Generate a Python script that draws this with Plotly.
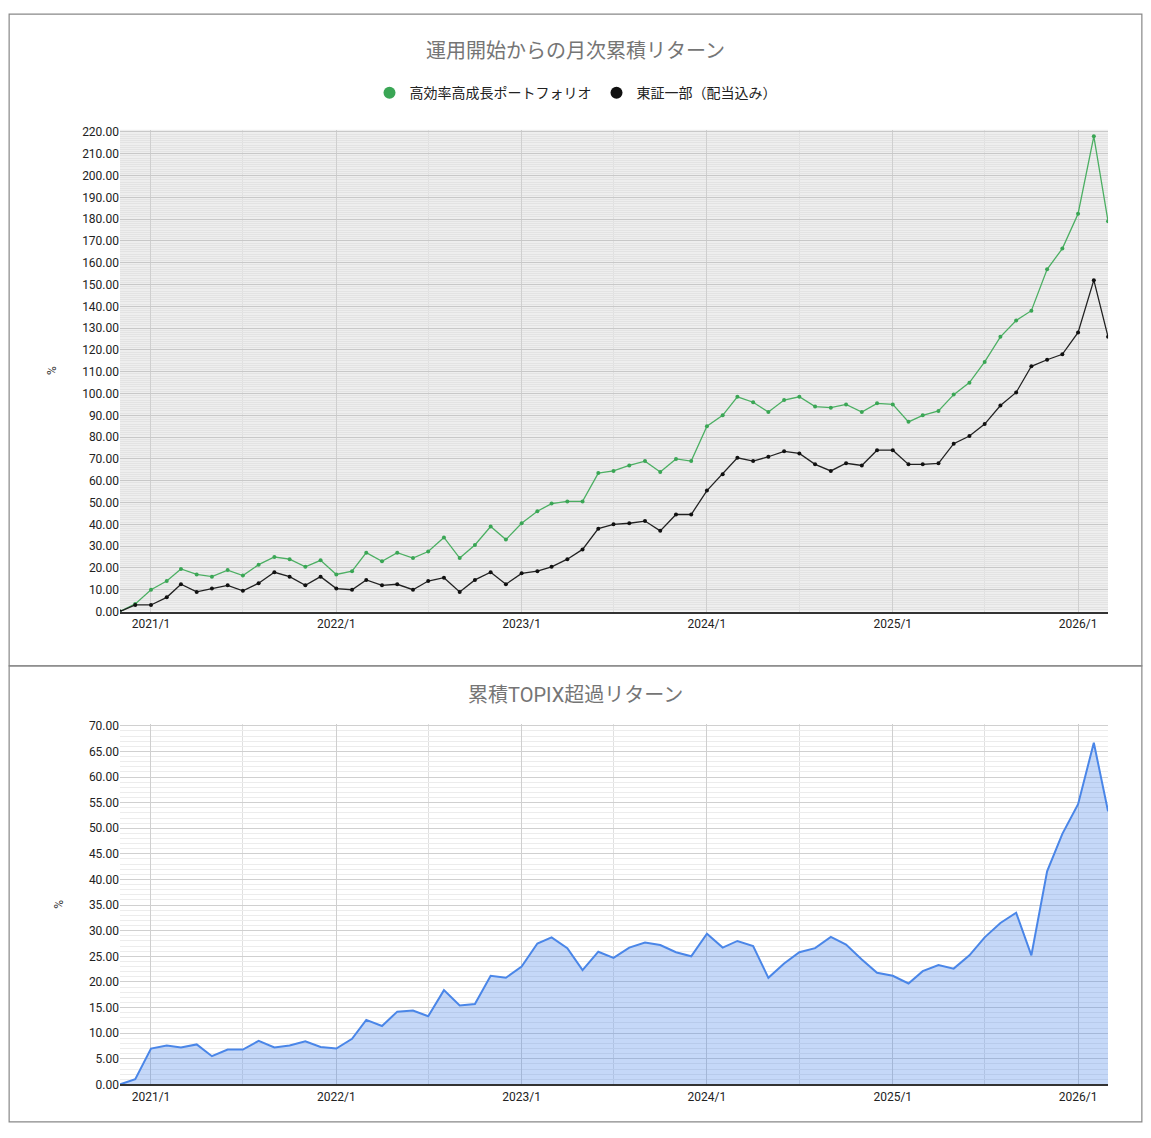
import plotly.graph_objects as go
import pandas as pd

months = pd.date_range("2020-11-01", "2026-03-01", freq="MS").strftime("%Y-%m-%d").tolist()

portfolio = [0, 3.5,
 10, 14, 19.5, 17, 16, 19, 16.5, 21.5, 25, 24, 20.5, 23.5,
 17, 18.5, 27, 23, 27, 24.5, 27.5, 34, 24.5, 30.5, 39, 33,
 40.5, 46, 49.5, 50.5, 50.5, 63.5, 64.5, 67, 69, 64, 70, 69,
 85, 90, 98.5, 96, 91.5, 97, 98.5, 94, 93.5, 95, 91.5, 95.5,
 95, 87, 90, 92, 99.5, 105, 114.5, 126, 133.5, 138, 157, 166.5,
 182.5, 218, 179]

topix = [0, 3,
 3, 6.5, 12.5, 9, 10.5, 12, 9.5, 13, 18, 16, 12, 16,
 10.5, 10, 14.5, 12, 12.5, 10, 14, 15.5, 9, 14.5, 18, 12.5,
 17.5, 18.5, 20.5, 24, 28.5, 38, 40, 40.5, 41.5, 37, 44.5, 44.5,
 55.5, 63, 70.5, 69, 71, 73.5, 72.5, 67.5, 64.5, 68, 67, 74,
 74, 67.5, 67.5, 68, 77, 80.5, 86, 94.5, 100.5, 112.5, 115.5, 118,
 128, 152, 126]

excess = [0, 1,
 7, 7.6, 7.2, 7.8, 5.5, 6.8, 6.8, 8.5, 7.2, 7.6, 8.4, 7.3,
 7, 8.9, 12.6, 11.4, 14.2, 14.4, 13.3, 18.4, 15.4, 15.7, 21.2, 20.8,
 23, 27.5, 28.7, 26.6, 22.3, 25.9, 24.7, 26.7, 27.7, 27.2, 25.8, 25,
 29.4, 26.7, 28, 27, 20.8, 23.6, 25.8, 26.6, 28.8, 27.3, 24.4, 21.8,
 21.2, 19.7, 22.1, 23.3, 22.6, 25.2, 28.7, 31.5, 33.5, 25.2, 41.6, 48.9,
 54.7, 66.7, 53.3]

year_ticks = ["2021-01-01", "2022-01-01", "2023-01-01", "2024-01-01", "2025-01-01", "2026-01-01"]
year_labels = ["2021/1", "2022/1", "2023/1", "2024/1", "2025/1", "2026/1"]

FONT = "Roboto, Noto Sans CJK JP, sans-serif"
GREEN_L, GREEN_M, BLACK = "#4caf63", "#3aa655", "#111111"
fig = go.Figure()
fig.add_trace(go.Scatter(x=months, y=portfolio, name="高効率高成長ポートフォリオ", mode="lines+markers",
                         line=dict(color=GREEN_L, width=1.3), marker=dict(size=4, color=GREEN_M),
                         showlegend=False, xaxis="x", yaxis="y"))
fig.add_trace(go.Scatter(x=months, y=topix, name="東証一部（配当込み）", mode="lines+markers",
                         line=dict(color="#222222", width=1.3), marker=dict(size=4, color=BLACK),
                         showlegend=False, xaxis="x", yaxis="y"))
# legend entries (dots only)
fig.add_trace(go.Scatter(x=[None], y=[None], name="高効率高成長ポートフォリオ", mode="markers",
                         marker=dict(size=12, color=GREEN_M), xaxis="x", yaxis="y"))
fig.add_trace(go.Scatter(x=[None], y=[None], name="東証一部（配当込み）", mode="markers",
                         marker=dict(size=12, color=BLACK), xaxis="x", yaxis="y"))
fig.add_trace(go.Scatter(x=months, y=excess, name="累積TOPIX超過リターン", mode="lines", fill="tozeroy",
                         line=dict(color="#4a86e8", width=2), fillcolor="rgba(74,134,232,0.32)",
                         showlegend=False, xaxis="x2", yaxis="y2"))

xcommon = dict(type="date", range=["2020-11-01", "2026-03-01"], tickvals=year_ticks, ticktext=year_labels,
               showgrid=True, gridcolor="#cfcfcf", ticks="", tickfont=dict(size=12, color="#222", family=FONT),
               minor=dict(dtick="M6", tick0="2021-01-01", showgrid=True, gridcolor="#e0e0e0"),
               showline=True, linecolor="#333", linewidth=1.5, zeroline=False)

XD = [0.0987, 0.9692]
fig.update_layout(
    width=1135, height=1122, margin=dict(l=0, r=0, t=0, b=0), autosize=False,
    paper_bgcolor="white", plot_bgcolor="white", font=dict(family=FONT),
    xaxis=dict(domain=XD, anchor="y", **xcommon),
    yaxis=dict(domain=[0.4608, 0.8948], range=[0, 221], dtick=10, tickformat=".2f",
               gridcolor="#c8c8c8", zeroline=False, tickfont=dict(size=12, color="#222"),
               minor=dict(dtick=1, showgrid=True, gridcolor="#e3e3e3"),
               title=dict(text="%", font=dict(size=12, color="#333"), standoff=22)),
    xaxis2=dict(domain=XD, anchor="y2", **xcommon),
    yaxis2=dict(domain=[0.0348, 0.3592], range=[0, 70.3], dtick=5, tickformat=".2f",
                gridcolor="#d0d0d0", zeroline=False, tickfont=dict(size=12, color="#222"),
                minor=dict(dtick=1, showgrid=True, gridcolor="#ececec"),
                title=dict(text="%", font=dict(size=12, color="#333"), standoff=22)),
    legend=dict(orientation="h", x=0.5, xanchor="center", y=0.9278, yanchor="middle",
                font=dict(size=14, color="#222")),
    shapes=[
        dict(type="rect", xref="paper", yref="paper", x0=XD[0], x1=XD[1], y0=0.4608, y1=0.8948,
             fillcolor="#eeeeee", line=dict(width=0), layer="below"),
        dict(type="rect", xref="paper", yref="paper", x0=0.001, x1=0.999, y0=0.4118, y1=0.999,
             line=dict(color="#888", width=1.2)),
        dict(type="rect", xref="paper", yref="paper", x0=0.001, x1=0.999, y0=0.001, y1=0.4118,
             line=dict(color="#888", width=1.2)),
    ],
    annotations=[
        dict(text="運用開始からの月次累積リターン", xref="paper", yref="paper", x=0.5, y=0.966,
             xanchor="center", yanchor="middle", showarrow=False, font=dict(size=20, color="#757575")),
        dict(text="累積TOPIX超過リターン", xref="paper", yref="paper", x=0.5, y=0.386,
             xanchor="center", yanchor="middle", showarrow=False, font=dict(size=20, color="#757575")),
    ],
)
fig.write_html("out.html")
